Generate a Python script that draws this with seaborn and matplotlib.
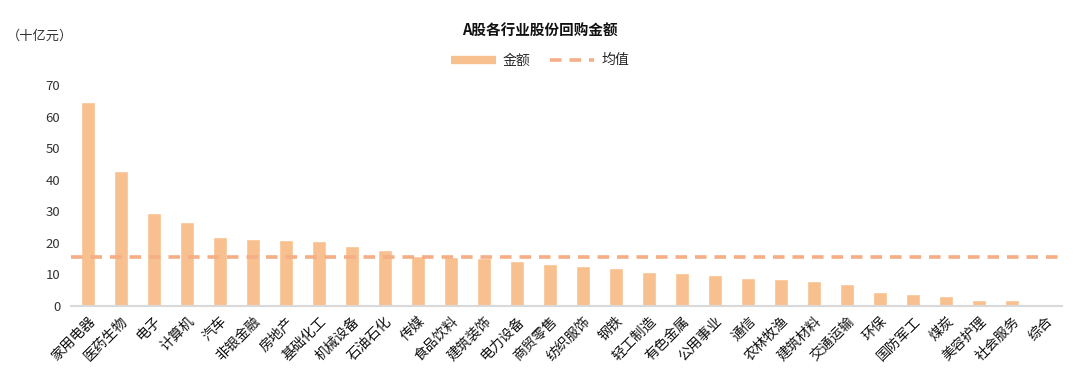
import numpy as np
import pandas as pd
import matplotlib
matplotlib.use('Agg')
import matplotlib.pyplot as plt
import seaborn as sns
from matplotlib.lines import Line2D

industries = ['家用电器', '医药生物', '电子', '计算机', '汽车', '非银金融', '房地产', '基础化工',
              '机械设备', '石油石化', '传媒', '食品饮料', '建筑装饰', '电力设备', '商贸零售',
              '纺织服饰', '钢铁', '轻工制造', '有色金属', '公用事业', '通信', '农林牧渔',
              '建筑材料', '交通运输', '环保', '国防军工', '煤炭', '美容护理', '社会服务', '综合']
amounts = [64.6, 42.7, 29.4, 26.6, 21.8, 21.2, 20.9, 20.7, 19.0, 17.7,
           15.8, 15.5, 15.2, 14.2, 13.3, 12.7, 12.0, 10.8, 10.4, 9.8,
           8.9, 8.6, 7.9, 7.0, 4.5, 3.9, 3.2, 2.0, 1.9, 0.0]
y_ticks = [0, 10, 20, 30, 40, 50, 60, 70]

sns.set_theme(style='white')
plt.rcParams['font.family'] = ['Noto Sans CJK SC', 'DejaVu Sans']

bar_color = '#F9C08F'
mean_color = '#F5AE85'
text_color = '#333333'

df = pd.DataFrame({'行业': industries, '金额': amounts})
avg = np.mean(amounts)

fig = plt.figure(figsize=(10.8, 3.73), dpi=100)
ax = fig.add_axes([0.066, 0.18, 0.917, 0.592])

sns.barplot(data=df, x='行业', y='金额', color=bar_color, width=0.42,
            saturation=1, ax=ax)
ax.plot([-0.5, len(industries) - 0.5], [avg, avg], color=mean_color,
        lw=2.6, dashes=(3.2, 2.2))

ax.set_xlim(-0.5, len(industries) - 0.5)
ax.set_ylim(0, 70)
ax.set_yticks(y_ticks)
ax.set_xlabel('')
ax.set_ylabel('')
ax.tick_params(axis='y', labelsize=9.5, colors=text_color, length=0, pad=8)
ax.tick_params(axis='x', labelsize=10, colors='#111111', length=0, pad=6)
plt.setp(ax.get_xticklabels(), rotation=45, ha='right', rotation_mode='anchor')

for s in ['top', 'right', 'left']:
    ax.spines[s].set_visible(False)
ax.spines['bottom'].set_color('#D9D9D9')
ax.spines['bottom'].set_linewidth(1.5)

fig.text(0.5, 0.918, 'A股各行业股份回购金额', ha='center', va='center',
         fontsize=10.5, fontweight='bold', color='#111111')
fig.text(0.006, 0.902, '（十亿元）', ha='left', va='center', fontsize=9.5, color=text_color)

handles = [Line2D([0], [0], color=bar_color, lw=6, solid_capstyle='butt'),
           Line2D([0], [0], color=mean_color, lw=2.6, dashes=(3.2, 2.2))]
fig.legend(handles, ['金额', '均值'], loc='center', bbox_to_anchor=(0.5, 0.838),
           ncol=2, frameon=False, fontsize=10, handlelength=3.2,
           columnspacing=1.4, handletextpad=0.5)

fig.savefig('out.png', dpi=100)
